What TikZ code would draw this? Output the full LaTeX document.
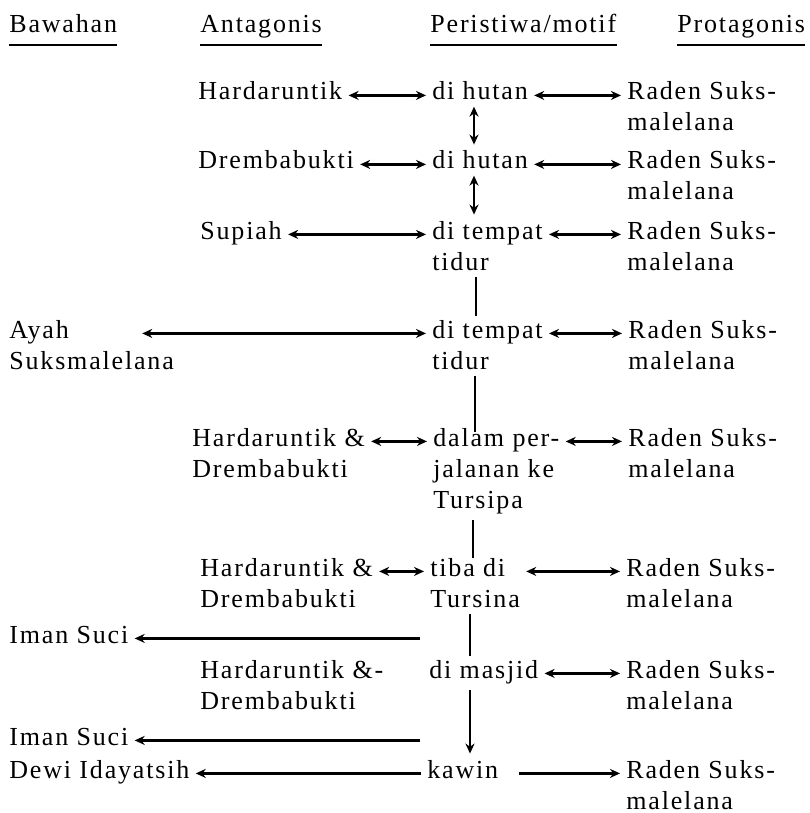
\documentclass[tikz,border=0pt]{standalone}
\usepackage{fontspec}
\setmainfont{Liberation Serif}[LetterSpace=7]
\usetikzlibrary{arrows.meta, calc}
% lines stacked, baseline on the first one
\newcommand{\stack}[1]{\vtop{\let\\\cr\halign{##\hfil\cr#1\crcr}}}

\begin{document}
\begin{tikzpicture}[x=0.5pt, y=-0.5pt,
  lbl/.style={anchor=base west, inner sep=0pt, font=\fontsize{13}{15.5}\selectfont},
  link/.style={{Stealth[length=5pt,width=4.5pt]}-{Stealth[length=5pt,width=4.5pt]}, line width=1.2pt, shorten <=3pt, shorten >=3pt},
  tolink/.style={-{Stealth[length=5pt,width=4.5pt]}, line width=1.2pt, shorten <=3pt, shorten >=3pt},
  bar/.style={line width=1.2pt}]
  \useasboundingbox (0,0) rectangle (809,813);

  % column heads
  \node[lbl] (hb) at (9,33) {Bawahan};
  \node[lbl] (ha) at (200,33) {Antagonis};
  \node[lbl] (he) at (430,33) {Peristiwa/motif};
  \node[lbl] (hp) at (677,33) {Protagonis};
  \foreach \h in {hb, ha, he, hp}
    \draw[line width=1.2pt] ([yshift=-6pt]\h.base west) -- ([yshift=-6pt]\h.base east);

  % rows
  \node[lbl] (a1) at (198,100) {Hardaruntik};
  \node[lbl] (e1) at (432,100) {di hutan};
  \node[lbl] (p1) at (627,100) {\stack{Raden Suks-\\malelana}};

  \node[lbl] (a2) at (198,169) {Drembabukti};
  \node[lbl] (e2) at (432,169) {di hutan};
  \node[lbl] (p2) at (627,169) {\stack{Raden Suks-\\malelana}};

  \node[lbl] (a3) at (200,239) {Supiah};
  \node[lbl] (e3) at (432,239) {\stack{di tempat\\tidur}};
  \node[lbl] (p3) at (627,239) {\stack{Raden Suks-\\malelana}};

  \node[lbl] (b4) at (9,338) {\stack{Ayah\\Suksmalelana}};
  \node[lbl] (e4) at (432,338) {\stack{di tempat\\tidur}};
  \node[lbl] (p4) at (628,338) {\stack{Raden Suks-\\malelana}};

  \node[lbl] (a5) at (192,446) {\stack{Hardaruntik \&\\Drembabukti}};
  \node[lbl] (e5) at (433,446) {\stack{dalam per-\\jalanan ke\\Tursipa}};
  \node[lbl] (p5) at (628,446) {\stack{Raden Suks-\\malelana}};

  \node[lbl] (a6) at (200,576) {\stack{Hardaruntik \&\\Drembabukti}};
  \node[lbl] (e6) at (430,576) {\stack{tiba di\\Tursina}};
  \node[lbl] (p6) at (626,576) {\stack{Raden Suks-\\malelana}};

  \node[lbl] (b6) at (9,643) {Iman Suci};

  \node[lbl] (a7) at (200,678) {\stack{Hardaruntik \&-\\Drembabukti}};
  \node[lbl] (e7) at (429,678) {di masjid};
  \node[lbl] (p7) at (626,678) {\stack{Raden Suks-\\malelana}};

  \node[lbl] (b7) at (9,745) {Iman Suci};

  \node[lbl] (b8) at (9,778) {Dewi Idayatsih};
  \node[lbl] (e8) at (427,778) {kawin};
  \node[lbl] (p8) at (626,778) {\stack{Raden Suks-\\malelana}};

  % horizontal links
  \draw[link] (a1.mid east) -- (e1.mid west);
  \draw[link] (e1.mid east) -- (p1.mid west);
  \draw[link] (a2.mid east) -- (e2.mid west);
  \draw[link] (e2.mid east) -- (p2.mid west);
  \draw[link] (a3.mid east) -- (e3.mid west);
  \draw[link] (e3.mid east) -- (p3.mid west);
  \draw[link, shorten <=-16pt] (b4.mid east) -- (e4.mid west);
  \draw[link] (e4.mid east) -- (p4.mid west);
  \draw[link] (a5.mid east) -- (e5.mid west);
  \draw[link] (e5.mid east) -- (p5.mid west);
  \draw[link] (a6.mid east) -- (e6.mid west);
  \draw[link] (e6.mid east) -- (p6.mid west);
  \draw[tolink, shorten <=4.5pt] (b6.mid east -| e7.west) -- (b6.mid east);
  \draw[link] (e7.mid east) -- (p7.mid west);
  \draw[tolink, shorten <=4.5pt] (b7.mid east -| e7.west) -- (b7.mid east);
  \draw[tolink] (e8.mid west) -- (b8.mid east);
  \draw[tolink, shorten <=10pt] (e8.mid east) -- (p8.mid west);

  % vertical links
  \draw[link] ($(e1.south west)+(42,0)$) coordinate (v1) -- (v1 |- e2.north);
  \draw[link] ($(e2.south west)+(42,0)$) coordinate (v2) -- (v2 |- e3.north);
  \draw[bar, shorten <=3pt, shorten >=2pt] ($(e3.south west)+(44,0)$) coordinate (v3) -- (v3 |- e4.north);
  \draw[bar, shorten <=3pt, shorten >=-2pt] ($(e4.south west)+(43,0)$) coordinate (v4) -- (v4 |- e5.north);
  \draw[bar, shorten <=3pt] ($(e5.south west)+(40,0)$) coordinate (v5) -- (v5 |- e6.north);
  \draw[bar, shorten <=3pt, shorten >=2pt] ($(e6.south west)+(40,0)$) coordinate (v6) -- (v6 |- e7.north);
  \draw[tolink] ($(e7.south west)+(41,0)$) coordinate (v7) -- (v7 |- e8.north);
\end{tikzpicture}
\end{document}
